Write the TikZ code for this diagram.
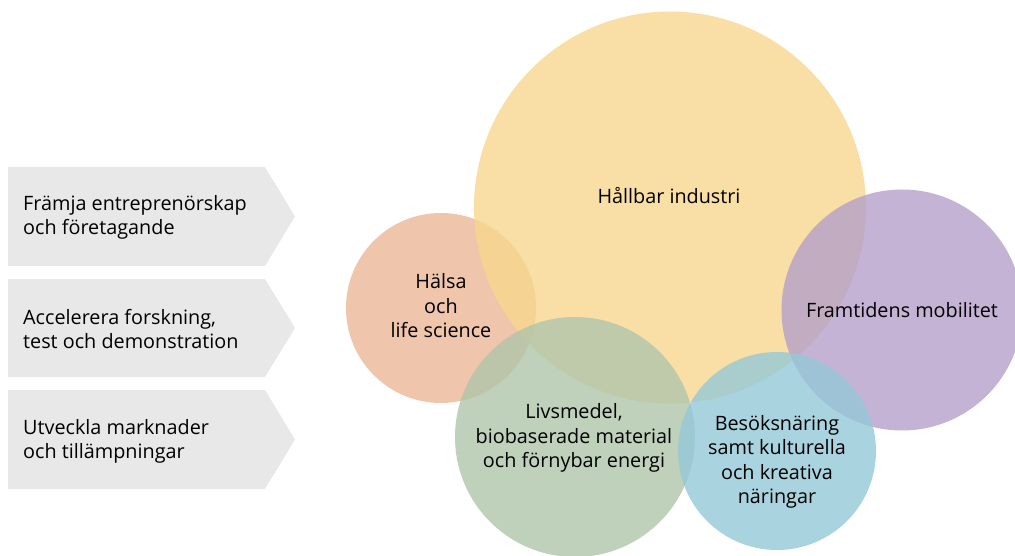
\documentclass[tikz,border=0pt]{standalone}
\usepackage{fontspec}
\setmainfont{Open Sans}
\definecolor{cyellow}{RGB}{247,215,142}
\definecolor{corange}{RGB}{235,182,151}
\definecolor{cpurple}{RGB}{181,160,201}
\definecolor{cgreen}{RGB}{175,197,170}
\definecolor{cblue}{RGB}{149,200,216}
\definecolor{cgray}{RGB}{232,232,232}
\begin{document}
\begin{tikzpicture}[x=1pt,y=-1pt,
  bubble/.style={circle,inner sep=0pt,draw=none,fill opacity=0.8},
  chev/.style={fill=cgray,draw=none},
  lbl/.style={font=\fontsize{19.8}{24.5}\selectfont,align=center,text=black,inner sep=0pt},
  llbl/.style={font=\fontsize{19.8}{24}\selectfont,align=left,anchor=west,text=black,inner sep=0pt}]
\useasboundingbox (0,0) rectangle (1015,556);
% chevrons
\fill[chev] (8,167) -- (265,167) -- (295,216.5) -- (265,266) -- (8,266) -- cycle;
\fill[chev] (8,279) -- (265,279) -- (295,328) -- (265,377) -- (8,377) -- cycle;
\fill[chev] (8,390) -- (265,390) -- (295,439.5) -- (265,489) -- (8,489) -- cycle;
\node[llbl] (t1) at (23,217) {Främja entreprenörskap\\och företagande};
\node[llbl] (t2) at (23,329) {Accelerera forskning,\\test och demonstration};
\node[llbl] (t3) at (23,441) {Utveckla marknader\\och tillämpningar};
% circles
\node[bubble,fill=corange,minimum size=190pt] (halsa) at (441,308) {};
\node[bubble,fill=cyellow,minimum size=392pt] (industri) at (670,207.5) {};
\node[bubble,fill=cpurple,minimum size=241pt] (mobilitet) at (902,310) {};
\node[bubble,fill=cgreen,minimum size=240pt] (livsmedel) at (575,437) {};
\node[bubble,fill=cblue,minimum size=198pt] (besok) at (777,451) {};
% labels
\node[lbl] (lindustri) at (669,196) {Hållbar industri};
\node[lbl] (lhalsa) at (441,306) {Hälsa\\och\\life science};
\node[lbl] (lmob) at (902,310) {Framtidens mobilitet};
\node[lbl] (lliv) at (574,438) {Livsmedel,\\biobaserade material\\och förnybar energi};
\node[lbl] (lbesok) at (777,462) {Besöksnäring\\samt kulturella\\och kreativa\\näringar};
\end{tikzpicture}
\end{document}
